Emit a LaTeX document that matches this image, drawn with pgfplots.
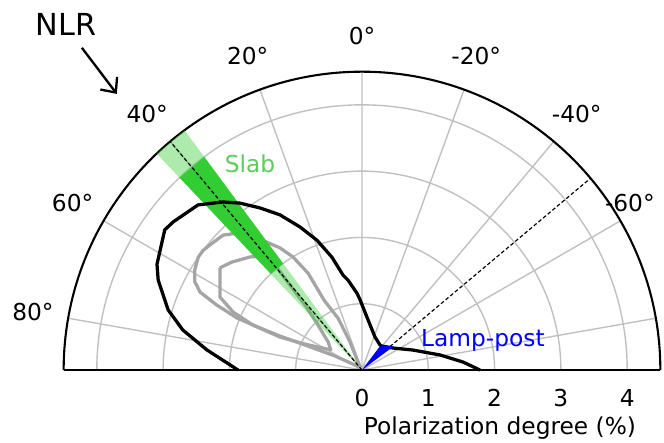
\documentclass[border=0pt]{standalone}
\usepackage{fontspec}
\setmainfont{DejaVu Sans}
\usepackage{pgfplots}
\usepackage{pgfplotstable}
\pgfplotsset{compat=1.18}
\usepgfplotslibrary{polar}
\usetikzlibrary{arrows.meta}
\definecolor{limeg}{RGB}{50,205,50}
\definecolor{slabtxt}{RGB}{90,205,90}
\definecolor{gridg}{RGB}{192,192,192}
\definecolor{contg}{RGB}{165,165,165}

% angle t: degrees from the vertical, positive to the left; r: polarization degree (%)
\pgfplotstableread{
t r
90 1.87
82.6 2.36
77.4 2.77
72.8 3.06
66.2 3.36
62.7 3.48
54.6 3.65
51.9 3.62
44.8 3.51
39.6 3.29
36.2 3.12
32.2 2.89
27.9 2.65
23.4 2.35
19.1 2.07
14.9 1.76
11.3 1.46
8.8 1.37
3.7 1.16
1.6 1.06
-5.4 0.80
-21.5 0.535
-35.8 0.465
-39.8 0.47
-54.6 0.573
-68.6 0.826
-79.1 1.20
-85.5 1.53
-90 1.78
}\blackc

\pgfplotstableread{
t r
35 0.05
23.2 0.46
24.8 0.86
28.5 1.20
29.1 1.67
31.4 2.00
33.9 2.22
37.9 2.50
41.7 2.77
45.8 2.92
49.7 2.96
53.0 3.00
55.4 3.00
59.1 2.94
62.2 2.85
64.3 2.71
65.9 2.40
67.4 2.04
67.6 1.66
67.5 1.34
66.3 0.94
62.6 0.46
35 0.05
}\outerc

\pgfplotstableread{
t r
54.3 2.64
50.3 2.55
44.7 2.40
41.3 2.29
39.6 2.06
40.3 1.68
41.2 1.30
44.4 0.95
50.5 0.66
57.2 0.56
65.5 0.94
68.1 1.33
67.6 1.78
65.8 2.13
62.8 2.41
58.5 2.51
54.3 2.64
}\innerc

\begin{document}
\begin{tikzpicture}
\begin{polaraxis}[
  xmin=0, xmax=180, ymin=0, ymax=4.5,
  scale only axis, width=9cm, height=9cm,
  xtick={10,30,...,170}, xticklabels={},
  ytick={1,2,3,4}, yticklabels={},
  grid=major,
  major grid style={gridg, line width=0.6pt},
  axis line style={black, line width=0.9pt},
  major tick length=0pt,
  clip=false,
]
\coordinate (O) at (axis cs:0,0);
% contours
\addplot[contg, line width=1.4pt, line join=round] table[x expr=\thisrow{t}+90, y=r] {\outerc};
\addplot[contg, line width=1.4pt, line join=round] table[x expr=\thisrow{t}+90, y=r] {\innerc};
% slab band
\addplot[fill=limeg, fill opacity=0.4, draw=none] coordinates {(126.5,0) (126.5,2) (133.5,2)} -- cycle;
\addplot[fill=limeg, draw=none] coordinates {(126.5,2) (126.5,4) (133.5,4) (133.5,2)} -- cycle;
\addplot[fill=limeg, fill opacity=0.4, draw=none] coordinates {(126.5,4) (126.5,4.5) (133.5,4.5) (133.5,4)} -- cycle;
% 99% contour
\addplot[black, line width=1.4pt, line join=round] table[x expr=\thisrow{t}+90, y=r] {\blackc};
% dashed directions
\addplot[black, line width=0.5pt, dash pattern=on 1.6pt off 1pt] coordinates {(130,0) (130,4.5)};
\addplot[black, line width=0.5pt, dash pattern=on 1.6pt off 1pt] coordinates {(40,0.55) (40,4.5)};
% lamp-post wedge
\addplot[fill=blue, draw=none] coordinates {(90,0) (37,0.6) (53,0.46)} -- cycle;
% angle labels
\node at (axis cs:90,5.04) {0°};
\node at (axis cs:110,5.04) {20°};
\node at (axis cs:130,5.04) {40°};
\node at (axis cs:150,5.04) {60°};
\node at (axis cs:170,5.04) {80°};
\node at (axis cs:70,5.04) {-20°};
\node at (axis cs:50,5.04) {-40°};
\node[anchor=east] at (axis cs:29.0,5.19) {-60°};
% radial labels
\foreach \v in {0,1,2,3,4} {
  \edef\tmp{\noexpand\node[anchor=base, yshift=-0.543cm] at (axis cs:0,\v) {\v};}\tmp
}
\node[anchor=base, yshift=-0.965cm] at (axis cs:0,2.08) {Polarization degree (\%)};
\node[anchor=base, text=slabtxt] at (axis cs:119.6,3.42) {Slab};
\node[anchor=base, text=blue] at (axis cs:11.2,1.86) {Lamp-post};
\node[anchor=base, font=\fontsize{13}{15}\selectfont] at (axis cs:131.5,6.74) {NLR};
\draw[line width=1pt, -{Straight Barb[length=5pt,width=9pt]}] (axis cs:131,6.44) -- (axis cs:131.6,5.57);
\end{polaraxis}
\pgfresetboundingbox
\path[use as bounding box] (O) ++(-5.46,-1.086) rectangle ++(10.015,6.667);
\end{tikzpicture}
\end{document}
